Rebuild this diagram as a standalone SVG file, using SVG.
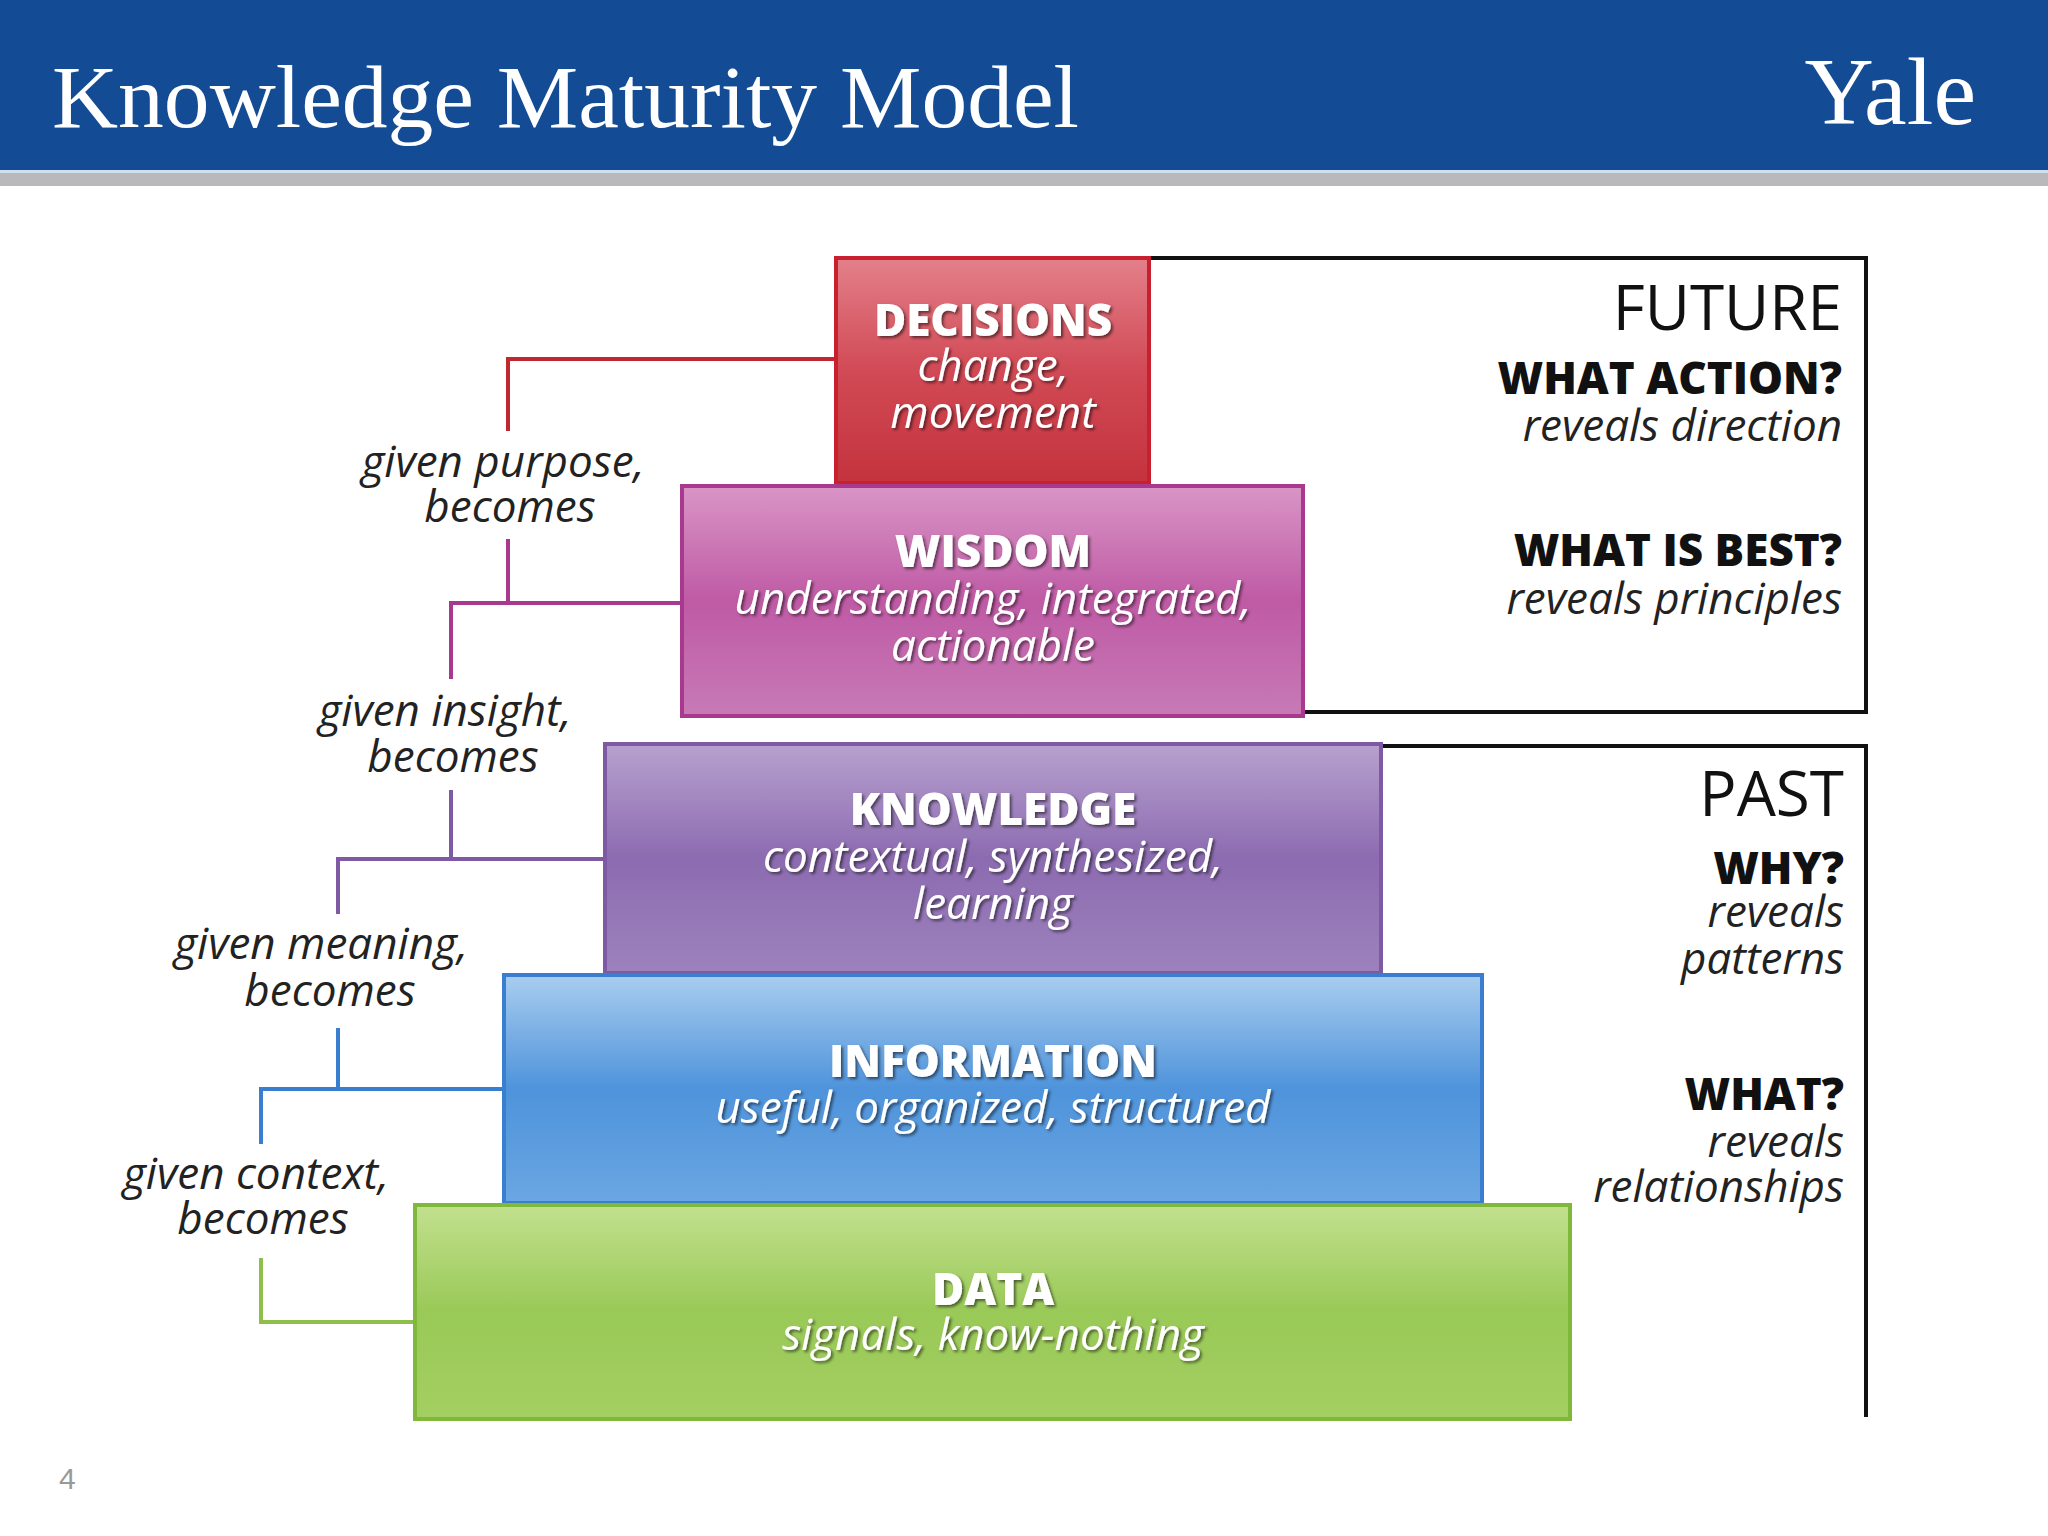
<svg xmlns="http://www.w3.org/2000/svg" width="2048" height="1536" viewBox="0 0 2048 1536">
<defs>
<linearGradient id="gR" x1="0" y1="0" x2="0" y2="1"><stop offset="0" stop-color="#e3808a"/><stop offset="0.5" stop-color="#d14a55"/><stop offset="1" stop-color="#c4333e"/></linearGradient>
<linearGradient id="gW" x1="0" y1="0" x2="0" y2="1"><stop offset="0" stop-color="#d995c6"/><stop offset="0.5" stop-color="#bf5aa5"/><stop offset="1" stop-color="#c77ab6"/></linearGradient>
<linearGradient id="gK" x1="0" y1="0" x2="0" y2="1"><stop offset="0" stop-color="#b7a1cf"/><stop offset="0.5" stop-color="#8c6bb0"/><stop offset="1" stop-color="#9d82bd"/></linearGradient>
<linearGradient id="gI" x1="0" y1="0" x2="0" y2="1"><stop offset="0" stop-color="#a9cdef"/><stop offset="0.5" stop-color="#4e93db"/><stop offset="1" stop-color="#6aa6e2"/></linearGradient>
<linearGradient id="gD" x1="0" y1="0" x2="0" y2="1"><stop offset="0" stop-color="#c2e08e"/><stop offset="0.5" stop-color="#99c957"/><stop offset="1" stop-color="#a4cf62"/></linearGradient>
<filter id="sh" x="-5%" y="-20%" width="110%" height="150%"><feDropShadow dx="2" dy="2" stdDeviation="1.5" flood-color="#000" flood-opacity="0.55"/></filter>
</defs>
<style>
.hd{font-family:"Open Sans","DejaVu Sans",sans-serif;font-weight:800;fill:#fff;font-size:44px;text-anchor:middle}
.it{font-family:"Open Sans","DejaVu Sans",sans-serif;font-style:italic;fill:#fff;font-size:44px;text-anchor:middle}
.lb{font-family:"Open Sans","DejaVu Sans",sans-serif;font-style:italic;fill:#222;font-size:44px;text-anchor:middle}
.rb{font-family:"Open Sans","DejaVu Sans",sans-serif;font-weight:800;fill:#111;font-size:44px;text-anchor:end}
.ri{font-family:"Open Sans","DejaVu Sans",sans-serif;font-style:italic;fill:#222;font-size:44px;text-anchor:end}
.big{font-family:"Open Sans","DejaVu Sans",sans-serif;fill:#111;font-size:62px;text-anchor:end}
.c{fill:none;stroke-width:4}
</style>
<rect width="2048" height="1536" fill="#fff"/>
<rect width="2048" height="170" fill="#134c94"/>
<rect y="170" width="2048" height="3" fill="#cfdff0"/>
<rect y="173" width="2048" height="13" fill="#b9b8bb"/>
<text x="52" y="127" font-family="'Liberation Serif',serif" font-size="88" fill="#fff" textLength="1027" lengthAdjust="spacingAndGlyphs">Knowledge Maturity Model</text>
<text x="1976" y="124" font-family="'Liberation Serif',serif" font-size="96" fill="#fff" text-anchor="end">Yale</text>
<text x="59" y="1489" font-family="'Liberation Sans',sans-serif" font-size="30" fill="#999">4</text>

<g id="brackets" fill="none" stroke="#111" stroke-width="4">
<polyline points="1149,258 1866,258 1866,712 1303,712"/>
<polyline points="1381,746 1866,746 1866,1417"/>
</g>
<g id="connectors">
<polyline class="c" stroke="#c0282f" points="836,359 508,359 508,431"/>
<polyline class="c" stroke="#a8398f" points="508,539 508,603"/>
<polyline class="c" stroke="#a8398f" points="682,603 451,603 451,679"/>
<polyline class="c" stroke="#7d5aa3" points="451,790 451,859"/>
<polyline class="c" stroke="#7d5aa3" points="605,859 338,859 338,914"/>
<polyline class="c" stroke="#3a7fcf" points="338,1028 338,1089"/>
<polyline class="c" stroke="#3a7fcf" points="504,1089 261,1089 261,1144"/>
<polyline class="c" stroke="#8dbf4a" points="261,1258 261,1322 415,1322"/>
</g>

<g id="decisions">
<rect x="836" y="258" width="313" height="225" fill="url(#gR)" stroke="#c8202e" stroke-width="4"/>
<g filter="url(#sh)"><text class="hd" x="993" y="336">DECISIONS</text>
<text class="it" x="993" y="381">change,</text><text class="it" x="993" y="428">movement</text></g>
</g>
<g id="wisdom">
<rect x="682" y="486" width="621" height="230" fill="url(#gW)" stroke="#a8398f" stroke-width="4"/>
<g filter="url(#sh)"><text class="hd" x="993" y="567">WISDOM</text>
<text class="it" x="993" y="614">understanding, integrated,</text><text class="it" x="993" y="661">actionable</text></g>
</g>
<g id="knowledge">
<rect x="605" y="744" width="776" height="229" fill="url(#gK)" stroke="#7d5aa3" stroke-width="4"/>
<g filter="url(#sh)"><text class="hd" x="993" y="825">KNOWLEDGE</text>
<text class="it" x="993" y="872">contextual, synthesized,</text><text class="it" x="993" y="919">learning</text></g>
</g>
<g id="information">
<rect x="504" y="975" width="978" height="228" fill="url(#gI)" stroke="#3a7fcf" stroke-width="4"/>
<g filter="url(#sh)"><text class="hd" x="993" y="1077">INFORMATION</text>
<text class="it" x="993" y="1123">useful, organized, structured</text></g>
</g>
<g id="data">
<rect x="415" y="1205" width="1155" height="214" fill="url(#gD)" stroke="#80b83b" stroke-width="4"/>
<g filter="url(#sh)"><text class="hd" x="993" y="1305">DATA</text>
<text class="it" x="993" y="1350">signals, know-nothing</text></g>
</g>

<g id="labels">
<text class="lb" x="503" y="477">given purpose,</text><text class="lb" x="510" y="522">becomes</text>
<text class="lb" x="445" y="726">given insight,</text><text class="lb" x="453" y="772">becomes</text>
<text class="lb" x="321" y="959">given meaning,</text><text class="lb" x="330" y="1006">becomes</text>
<text class="lb" x="256" y="1189">given context,</text><text class="lb" x="263" y="1234">becomes</text>
</g>
<g id="future">
<text class="big" x="1842" y="330">FUTURE</text>
<text class="rb" x="1842" y="394">WHAT ACTION?</text><text class="ri" x="1842" y="441">reveals direction</text>
<text class="rb" x="1842" y="566">WHAT IS BEST?</text><text class="ri" x="1842" y="614">reveals principles</text>
</g>
<g id="past">
<text class="big" x="1844" y="816">PAST</text>
<text class="rb" x="1844" y="884">WHY?</text><text class="ri" x="1844" y="927">reveals</text><text class="ri" x="1844" y="974">patterns</text>
<text class="rb" x="1844" y="1110">WHAT?</text><text class="ri" x="1844" y="1157">reveals</text><text class="ri" x="1844" y="1202">relationships</text>
</g>
</svg>
